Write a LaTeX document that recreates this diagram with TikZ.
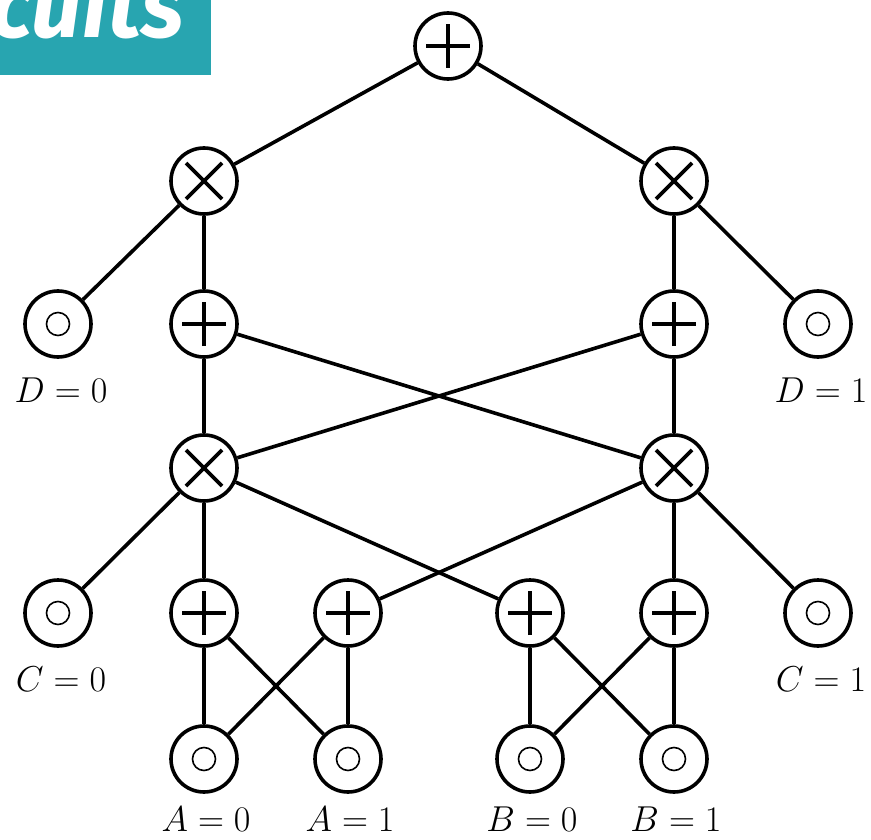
\RequirePackage{fix-cm}
\documentclass[tikz,border=0pt]{standalone}
\usepackage{fontspec}
\newfontfamily\bannerfont{Fira Sans}
\definecolor{banner}{RGB}{40,165,176}
\begin{document}
\begin{tikzpicture}[x=1pt,y=-1pt,
  gate/.style={circle,draw,line width=3.6pt,minimum size=66pt,inner sep=0pt,fill=white},
  plusgate/.style={gate,path picture={\draw[line width=3.6pt]
      ([xshift=-22pt]path picture bounding box.center) -- ([xshift=22pt]path picture bounding box.center)
      ([yshift=-22pt]path picture bounding box.center) -- ([yshift=22pt]path picture bounding box.center);}},
  timesgate/.style={gate,path picture={\draw[line width=3.6pt]
      ([shift={(-18pt,-18pt)}]path picture bounding box.center) -- ([shift={(18pt,18pt)}]path picture bounding box.center)
      ([shift={(-18pt,18pt)}]path picture bounding box.center) -- ([shift={(18pt,-18pt)}]path picture bounding box.center);}},
  leaf/.style={gate,path picture={\draw[line width=1.6pt] (path picture bounding box.center) circle (11.5pt);}},
  lab/.style={anchor=base,inner sep=0pt,font=\fontsize{36}{42}\selectfont},
  wire/.style={line width=3.6pt}]
\useasboundingbox (0,0) rectangle (871,840);
% banner
\fill[banner] (0,0) rectangle (211,75);
\begin{scope}
\clip (0,0) rectangle (211,75);
\node[anchor=base east,inner sep=0pt,text=white,font=\bannerfont\bfseries\itshape\fontsize{90}{92}\selectfont] (bannertext) at (184,38) {cuits};
\end{scope}
% nodes
\node[plusgate] (top) at (448,46) {};
\node[timesgate] (mL) at (204,181) {};
\node[timesgate] (mR) at (674,181) {};
\node[leaf] (d0) at (58,324) {};
\node[plusgate] (pL) at (204,324) {};
\node[plusgate] (pR) at (674,324) {};
\node[leaf] (d1) at (818,324) {};
\node[timesgate] (xL) at (204,468) {};
\node[timesgate] (xR) at (674,468) {};
\node[leaf] (c0) at (58,613) {};
\node[plusgate] (q1) at (204,613) {};
\node[plusgate] (q2) at (348,613) {};
\node[plusgate] (q3) at (530,613) {};
\node[plusgate] (q4) at (674,613) {};
\node[leaf] (c1) at (818,613) {};
\node[leaf] (a0) at (204,759) {};
\node[leaf] (a1) at (348,759) {};
\node[leaf] (b0) at (530,759) {};
\node[leaf] (b1) at (674,759) {};
% labels
\node[lab] (ld0) at (61,402) {$D=0$};
\node[lab] (ld1) at (821,402) {$D=1$};
\node[lab] (lc0) at (61,691) {$C=0$};
\node[lab] (lc1) at (821,691) {$C=1$};
\node[lab] (la0) at (206,831) {$A=0$};
\node[lab] (la1) at (350,831) {$A=1$};
\node[lab] (lb0) at (532,831) {$B=0$};
\node[lab] (lb1) at (676,831) {$B=1$};
% wires
\draw[wire] (top) -- (mL);
\draw[wire] (top) -- (mR);
\draw[wire] (mL) -- (d0);
\draw[wire] (mL) -- (pL);
\draw[wire] (mR) -- (pR);
\draw[wire] (mR) -- (d1);
\draw[wire] (pL) -- (xL);
\draw[wire] (pL) -- (xR);
\draw[wire] (pR) -- (xR);
\draw[wire] (pR) -- (xL);
\draw[wire] (xL) -- (c0);
\draw[wire] (xL) -- (q1);
\draw[wire] (xL) -- (q3);
\draw[wire] (xR) -- (c1);
\draw[wire] (xR) -- (q4);
\draw[wire] (xR) -- (q2);
\draw[wire] (q1) -- (a0);
\draw[wire] (q1) -- (a1);
\draw[wire] (q2) -- (a0);
\draw[wire] (q2) -- (a1);
\draw[wire] (q3) -- (b0);
\draw[wire] (q3) -- (b1);
\draw[wire] (q4) -- (b0);
\draw[wire] (q4) -- (b1);
\end{tikzpicture}
\end{document}
